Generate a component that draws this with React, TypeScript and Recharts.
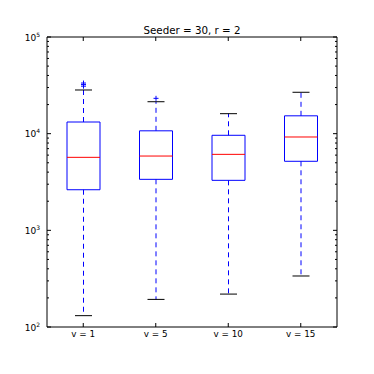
import React from 'react';
import { ComposedChart, Bar, XAxis, YAxis } from 'recharts';

const CATEGORIES = ['v = 1', 'v = 5', 'v = 10', 'v = 15'];
const WHISKER_LOW = [131, 193, 219, 337];
const Q1 = [2630, 3370, 3290, 5180];
const MEDIAN = [5690, 5870, 6110, 9240];
const Q3 = [13200, 10700, 9620, 15300];
const WHISKER_HIGH = [28300, 21400, 16100, 26800];
const OUTLIERS = [[31000, 32200, 33400], [23200], [], []];

const MAJOR_TICKS = [100, 1000, 10000, 100000];
const Y_TICKS = [
  100, 200, 300, 400, 500, 600, 700, 800, 900,
  1000, 2000, 3000, 4000, 5000, 6000, 7000, 8000, 9000,
  10000, 20000, 30000, 40000, 50000, 60000, 70000, 80000, 90000,
  100000,
];

const rows = CATEGORIES.map((name, i) => ({
  name,
  low: WHISKER_LOW[i],
  q1: Q1[i],
  median: MEDIAN[i],
  q3: Q3[i],
  high: WHISKER_HIGH[i],
  o0: OUTLIERS[i][0],
  o1: OUTLIERS[i][1],
  o2: OUTLIERS[i][2],
}));

const OUTLIER_KEYS = ['o0', 'o1', 'o2'];

const BLUE = '#0000ff';
const FONT = '"DejaVu Sans", sans-serif';

const LowerWhisker = (props: any) => {
  const { x, y, width, height } = props;
  const top = Math.min(y, y + height);
  const bottom = Math.max(y, y + height);
  const cx = x + width / 2;
  return (
    <g>
      <line x1={cx} x2={cx} y1={top} y2={bottom} stroke={BLUE} strokeDasharray="5 4" />
      <line x1={x} x2={x + width} y1={bottom} y2={bottom} stroke="#000" />
    </g>
  );
};

const UpperWhisker = (props: any) => {
  const { x, y, width, height } = props;
  const top = Math.min(y, y + height);
  const bottom = Math.max(y, y + height);
  const cx = x + width / 2;
  return (
    <g>
      <line x1={cx} x2={cx} y1={bottom} y2={top} stroke={BLUE} strokeDasharray="5 4" />
      <line x1={x} x2={x + width} y1={top} y2={top} stroke="#000" />
    </g>
  );
};

const MedianLine = (props: any) => {
  const { x, y, width } = props;
  return <line x1={x} x2={x + width} y1={y} y2={y} stroke="#ff0000" />;
};

const PlusMarker = (props: any) => {
  const { x, y, width } = props;
  if (!Number.isFinite(y) || !Number.isFinite(x)) return <g />;
  const cx = x + width / 2;
  return (
    <g stroke={BLUE}>
      <line x1={cx - 2.5} x2={cx + 2.5} y1={y} y2={y} />
      <line x1={cx} x2={cx} y1={y - 2.5} y2={y + 2.5} />
    </g>
  );
};

const BottomTick = (props: any) => {
  const { x, y, payload } = props;
  return (
    <g>
      <line x1={x} x2={x} y1={y} y2={y - 4} stroke="#000" />
      <text x={x} y={y + 10} textAnchor="middle" fontSize={8.8} fontFamily={FONT} fill="#000">
        {payload.value}
      </text>
    </g>
  );
};

const TopTick = (props: any) => {
  const { x, y } = props;
  return <line x1={x} x2={x} y1={y} y2={y + 4} stroke="#000" />;
};

const LeftTick = (props: any) => {
  const { x, y, payload } = props;
  const major = MAJOR_TICKS.includes(payload.value);
  return (
    <g>
      <line x1={x} x2={x + (major ? 4 : 2)} y1={y} y2={y} stroke="#000" />
      {major && (
        <text x={x - 7} y={y + 3.5} textAnchor="end" fontSize={9} fontFamily={FONT} fill="#000">
          10
          <tspan dy={-4} fontSize={6}>
            {Math.round(Math.log10(payload.value))}
          </tspan>
        </text>
      )}
    </g>
  );
};

const RightTick = (props: any) => {
  const { x, y, payload } = props;
  const major = MAJOR_TICKS.includes(payload.value);
  return <line x1={x} x2={x - (major ? 4 : 2)} y1={y} y2={y} stroke="#000" />;
};

const App: React.FC = () => {
  return (
    <div style={{ position: 'absolute', left: 0, top: 0, width: 374, height: 374, background: '#fff' }}>
      <div
        style={{
          position: 'absolute',
          left: 0,
          width: 384,
          top: 24.4,
          textAlign: 'center',
          fontFamily: FONT,
          fontSize: 10.3,
          lineHeight: '12px',
        }}
      >
        Seeder = 30, r = 2
      </div>
      <ComposedChart width={374} height={374} data={rows} margin={{ top: 36, right: 36, bottom: 46, left: 46 }}>
        <XAxis
          xAxisId="main"
          dataKey="name"
          height={1}
          tickSize={0}
          tickMargin={0}
          interval={0}
          tickLine={false}
          axisLine={{ stroke: '#000' }}
          tick={<BottomTick />}
        />
        <XAxis
          xAxisId="top"
          orientation="top"
          dataKey="name"
          height={1}
          tickSize={0}
          tickMargin={0}
          interval={0}
          tickLine={false}
          axisLine={{ stroke: '#000' }}
          tick={<TopTick />}
        />
        <XAxis xAxisId="wlow" dataKey="name" hide />
        <XAxis xAxisId="whigh" dataKey="name" hide />
        {OUTLIER_KEYS.map((k) => (
          <XAxis key={k} xAxisId={k} dataKey="name" hide />
        ))}
        <YAxis
          yAxisId="left"
          type="number"
          scale="log"
          domain={[100, 100000]}
          allowDataOverflow
          ticks={Y_TICKS}
          interval={0}
          width={1}
          tickSize={0}
          tickMargin={0}
          tickLine={false}
          axisLine={{ stroke: '#000' }}
          tick={<LeftTick />}
        />
        <YAxis
          yAxisId="right"
          orientation="right"
          type="number"
          scale="log"
          domain={[100, 100000]}
          allowDataOverflow
          ticks={Y_TICKS}
          interval={0}
          width={1}
          tickSize={0}
          tickMargin={0}
          tickLine={false}
          axisLine={{ stroke: '#000' }}
          tick={<RightTick />}
        />
        <Bar
          xAxisId="wlow"
          yAxisId="left"
          dataKey={(d: any) => [d.low, d.q1]}
          barSize={17}
          shape={<LowerWhisker />}
          isAnimationActive={false}
        />
        <Bar
          xAxisId="whigh"
          yAxisId="left"
          dataKey={(d: any) => [d.q3, d.high]}
          barSize={17}
          shape={<UpperWhisker />}
          isAnimationActive={false}
        />
        <Bar
          xAxisId="main"
          yAxisId="left"
          dataKey={(d: any) => [d.q1, d.q3]}
          barSize={33}
          fill="none"
          stroke={BLUE}
          strokeWidth={1}
          isAnimationActive={false}
        />
        <Bar
          xAxisId="top"
          yAxisId="right"
          dataKey={(d: any) => [d.median, d.median]}
          barSize={33}
          shape={<MedianLine />}
          isAnimationActive={false}
        />
        {OUTLIER_KEYS.map((k) => (
          <Bar
            key={k}
            xAxisId={k}
            yAxisId="left"
            dataKey={(d: any) => (d[k] == null ? null : [d[k], d[k]])}
            barSize={5}
            shape={<PlusMarker />}
            isAnimationActive={false}
          />
        ))}
      </ComposedChart>
    </div>
  );
};

export default App;
